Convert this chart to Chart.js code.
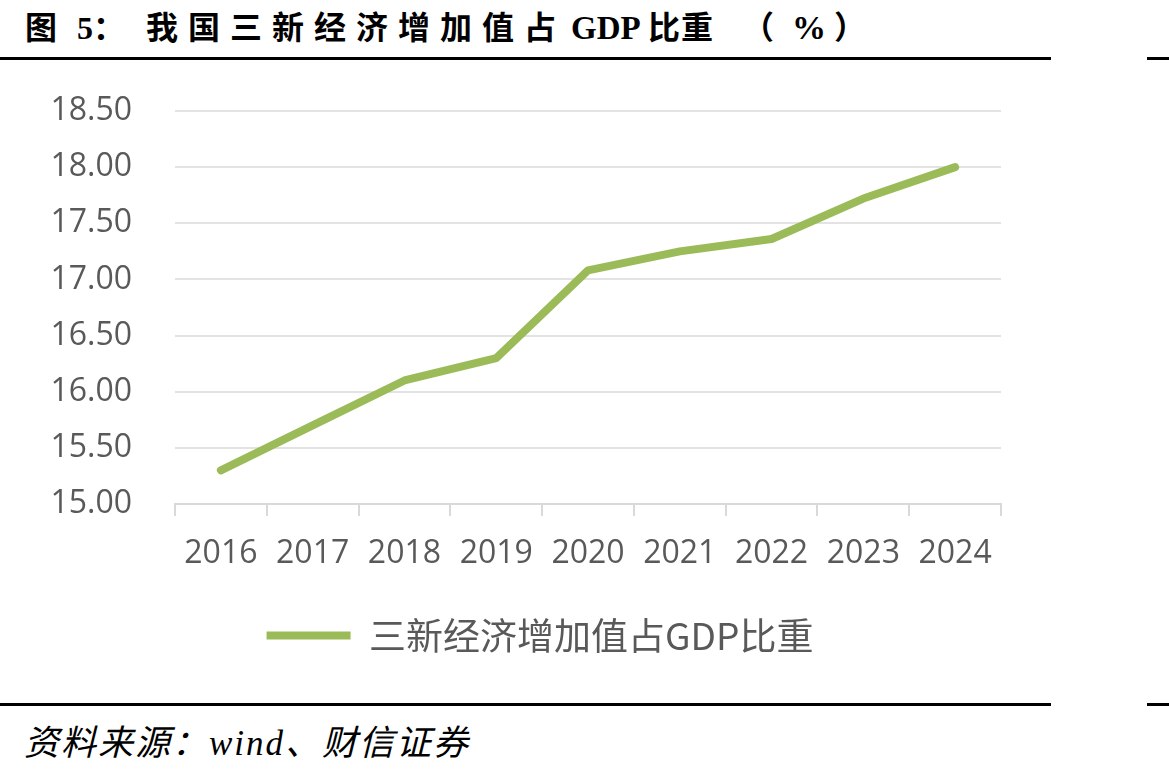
<!DOCTYPE html>
<html>
<head>
<meta charset="utf-8">
<script src="https://cdn.jsdelivr.net/npm/chart.js@4.4.1/dist/chart.umd.min.js"></script>
<style>
    html, body { margin: 0; padding: 0; background: #ffffff; }
    body { width: 1169px; height: 774px; position: relative; overflow: hidden; }
    .title span {
        position: absolute; top: 8px; line-height: 40px;
        font-family: "Liberation Serif", "Noto Sans CJK SC", serif;
        font-weight: bold; font-size: 32px;
        color: #000; white-space: nowrap;
    }
    .rule { position: absolute; height: 3px; background: #000; }
    .source {
        position: absolute; left: 24px; top: 724px; line-height: 40px;
        font-family: "Liberation Serif", "Noto Sans CJK SC", serif;
        font-style: italic; font-size: 35px; letter-spacing: 2px;
        color: #000; white-space: nowrap;
    }
    #chartBox { position: absolute; left: 0; top: 60px; width: 1080px; height: 640px; }
</style>
</head>
<body>
<div class="title">
    <span style="left:25px;">图</span>
    <span style="left:77px;">5：</span>
    <span style="left:146px; letter-spacing:10px;">我国三新经济增加值占</span>
    <span style="left:571px; font-size:33px;">GDP</span>
    <span style="left:648px;">比</span>
    <span style="left:681px;">重</span>
    <span style="left:742px;">（</span>
    <span style="left:792px; font-size:34px;">%</span>
    <span style="left:834px;">）</span>
</div>
<div class="rule" style="left:0; top:57px; width:1051px;"></div>
<div class="rule" style="left:1147px; top:57px; width:22px;"></div>
<div id="chartBox"><canvas id="shareChart"></canvas></div>
<div class="rule" style="left:0; top:703px; width:1051px;"></div>
<div class="rule" style="left:1147px; top:703px; width:22px;"></div>
<div class="source">资料来源：wind、财信证券</div>

<script>
// data
const years = ['2016', '2017', '2018', '2019', '2020', '2021', '2022', '2023', '2024'];
const shareValues = [15.30, 15.70, 16.10, 16.30, 17.08, 17.25, 17.36, 17.72, 18.00];
const seriesName = '三新经济增加值占GDP比重';
const yMin = 15, yMax = 18.5, yStep = 0.5;

const labelColor = '#595959';
const lineColor = '#9BBB59';

const ctx = document.getElementById('shareChart').getContext('2d');
new Chart(ctx, {
    type: 'line',
    data: {
        labels: years,
        datasets: [{
            label: seriesName,
            data: shareValues,
            borderColor: lineColor,
            backgroundColor: lineColor,
            borderWidth: 8,
            borderCapStyle: 'round',
            borderJoinStyle: 'round',
            pointRadius: 0,
            tension: 0,
            fill: false
        }]
    },
    options: {
        responsive: true,
        maintainAspectRatio: false,
        animation: false,
        layout: { padding: { top: 51, right: 0, left: 0, bottom: 36 } },
        plugins: {
            tooltip: { enabled: false },
            legend: {
                position: 'bottom',
                labels: {
                    usePointStyle: true,
                    pointStyle: 'line',
                    pointStyleWidth: 84,
                    boxHeight: 8,
                    padding: 33,
                    color: labelColor,
                    font: { family: '"Noto Sans CJK SC", sans-serif', size: 37 }
                }
            }
        },
        scales: {
            x: {
                offset: true,
                grid: {
                    offset: true,
                    drawOnChartArea: false,
                    drawTicks: true,
                    tickLength: 12,
                    color: '#d9d9d9',
                    lineWidth: 2
                },
                border: { display: true, color: '#d9d9d9', width: 2 },
                ticks: {
                    color: labelColor,
                    padding: 19,
                    maxRotation: 0,
                    font: { family: '"Open Sans", sans-serif', size: 32 }
                },
                afterFit: function(scale) { scale.height = 80; }
            },
            y: {
                min: yMin,
                max: yMax,
                grid: { color: '#e3e3e3', lineWidth: 2, drawTicks: false },
                border: { display: false },
                ticks: {
                    stepSize: yStep,
                    padding: 43,
                    color: labelColor,
                    font: { family: '"Open Sans", sans-serif', size: 32 },
                    callback: function(value) { return value.toFixed(2); }
                },
                afterFit: function(scale) {
                    scale.width = 175;
                    scale.paddingTop = 0;
                    scale.paddingBottom = 0;
                }
            },
            // empty right-hand strip so the plot ends where the reference does
            yRight: {
                position: 'right',
                grid: { display: false },
                border: { display: false },
                ticks: { display: false },
                afterFit: function(scale) { scale.width = 79; }
            }
        }
    }
});
</script>
</body>
</html>
